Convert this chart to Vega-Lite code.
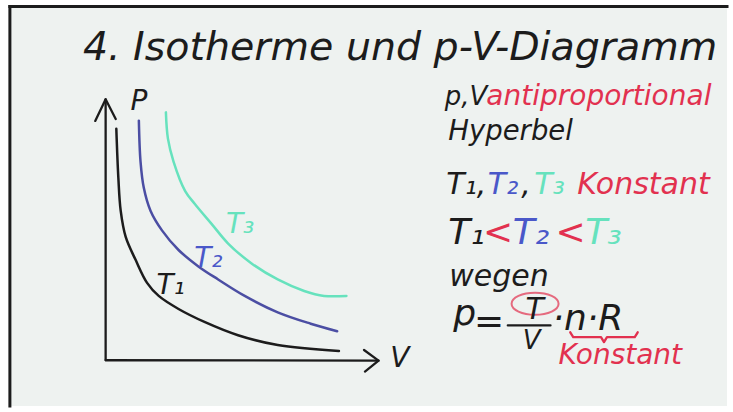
{
  "$schema": "https://vega.github.io/schema/vega-lite/v6.json",
  "width": 733,
  "height": 412,
  "autosize": {"type": "fit", "contains": "padding"},
  "padding": 0,
  "background": "#ffffff",
  "config": {"view": {"stroke": null}},
  "datasets": {
    "curves": [
      {"g": "T1", "i": 0, "x": 16.00, "y": 68.45, "ink": "k"},
      {"g": "T1", "i": 1, "x": 16.28, "y": 56.31, "ink": "k"},
      {"g": "T1", "i": 2, "x": 16.60, "y": 48.23, "ink": "k"},
      {"g": "T1", "i": 3, "x": 17.29, "y": 41.75, "ink": "k"},
      {"g": "T1", "i": 4, "x": 18.65, "y": 36.09, "ink": "k"},
      {"g": "T1", "i": 5, "x": 20.23, "y": 30.41, "ink": "k"},
      {"g": "T1", "i": 6, "x": 21.83, "y": 27.18, "ink": "k"},
      {"g": "T1", "i": 7, "x": 24.56, "y": 23.96, "ink": "k"},
      {"g": "T1", "i": 8, "x": 28.20, "y": 20.70, "ink": "k"},
      {"g": "T1", "i": 9, "x": 32.74, "y": 17.48, "ink": "k"},
      {"g": "T1", "i": 10, "x": 38.20, "y": 15.05, "ink": "k"},
      {"g": "T1", "i": 11, "x": 46.62, "y": 13.59, "ink": "k"},
      {"g": "T2", "i": 0, "x": 19.10, "y": 70.46, "ink": "blue"},
      {"g": "T2", "i": 1, "x": 19.33, "y": 60.36, "ink": "blue"},
      {"g": "T2", "i": 2, "x": 19.78, "y": 53.88, "ink": "blue"},
      {"g": "T2", "i": 3, "x": 20.70, "y": 48.23, "ink": "blue"},
      {"g": "T2", "i": 4, "x": 22.28, "y": 43.37, "ink": "blue"},
      {"g": "T2", "i": 5, "x": 24.56, "y": 38.52, "ink": "blue"},
      {"g": "T2", "i": 6, "x": 27.29, "y": 34.47, "ink": "blue"},
      {"g": "T2", "i": 7, "x": 30.01, "y": 31.24, "ink": "blue"},
      {"g": "T2", "i": 8, "x": 33.66, "y": 27.18, "ink": "blue"},
      {"g": "T2", "i": 9, "x": 38.20, "y": 23.13, "ink": "blue"},
      {"g": "T2", "i": 10, "x": 42.74, "y": 20.32, "ink": "blue"},
      {"g": "T2", "i": 11, "x": 46.38, "y": 18.45, "ink": "blue"},
      {"g": "T3", "i": 0, "x": 22.82, "y": 72.50, "ink": "teal"},
      {"g": "T3", "i": 1, "x": 23.10, "y": 66.02, "ink": "teal"},
      {"g": "T3", "i": 2, "x": 23.87, "y": 60.36, "ink": "teal"},
      {"g": "T3", "i": 3, "x": 25.47, "y": 53.08, "ink": "teal"},
      {"g": "T3", "i": 4, "x": 26.83, "y": 49.83, "ink": "teal"},
      {"g": "T3", "i": 5, "x": 29.10, "y": 44.98, "ink": "teal"},
      {"g": "T3", "i": 6, "x": 31.38, "y": 40.12, "ink": "teal"},
      {"g": "T3", "i": 7, "x": 34.56, "y": 35.27, "ink": "teal"},
      {"g": "T3", "i": 8, "x": 38.20, "y": 31.24, "ink": "teal"},
      {"g": "T3", "i": 9, "x": 41.84, "y": 28.40, "ink": "teal"},
      {"g": "T3", "i": 10, "x": 44.57, "y": 27.18, "ink": "teal"},
      {"g": "T3", "i": 11, "x": 47.65, "y": 27.18, "ink": "teal"}
    ],
    "strokes": [
      {"g": "ay", "i": 0, "x": 14.53, "y": 11.35, "ink": "k"},
      {"g": "ay", "i": 1, "x": 14.53, "y": 75.73, "ink": "k"},
      {"g": "ax", "i": 0, "x": 14.53, "y": 11.30, "ink": "k"},
      {"g": "ax", "i": 1, "x": 52.07, "y": 11.20, "ink": "k"},
      {"g": "ahy", "i": 0, "x": 13.10, "y": 70.39, "ink": "k"},
      {"g": "ahy", "i": 1, "x": 14.53, "y": 75.73, "ink": "k"},
      {"g": "ahy", "i": 2, "x": 15.92, "y": 70.87, "ink": "k"},
      {"g": "ahx", "i": 0, "x": 50.07, "y": 13.83, "ink": "k"},
      {"g": "ahx", "i": 1, "x": 52.07, "y": 11.20, "ink": "k"},
      {"g": "ahx", "i": 2, "x": 50.20, "y": 8.50, "ink": "k"},
      {"g": "bar", "i": 0, "x": 69.85, "y": 19.90, "ink": "k"},
      {"g": "bar", "i": 1, "x": 75.72, "y": 19.90, "ink": "k"},
      {"g": "brace", "i": 0, "x": 78.44, "y": 18.20, "ink": "red"},
      {"g": "brace", "i": 1, "x": 78.85, "y": 16.99, "ink": "red"},
      {"g": "brace", "i": 2, "x": 82.67, "y": 16.99, "ink": "red"},
      {"g": "brace", "i": 3, "x": 83.08, "y": 15.78, "ink": "red"},
      {"g": "brace", "i": 4, "x": 83.49, "y": 16.99, "ink": "red"},
      {"g": "brace", "i": 5, "x": 87.31, "y": 16.99, "ink": "red"},
      {"g": "brace", "i": 6, "x": 87.72, "y": 18.20, "ink": "red"}
    ],
    "frame": [
      {"g": "fv", "i": 0, "x": 1.36, "y": 0, "ink": "k"},
      {"g": "fv", "i": 1, "x": 1.36, "y": 98.67, "ink": "k"},
      {"g": "fh", "i": 0, "x": 1.36, "y": 98.67, "ink": "k"},
      {"g": "fh", "i": 1, "x": 100, "y": 98.67, "ink": "k"}
    ],
    "texts": [
      {"kind": "title", "x": 11.4, "y": 85.44, "t": "4. Isotherme und p-V-Diagramm", "ink": "k"},
      {"kind": "label", "x": 19.10, "y": 74.97, "t": "P", "ink": "k"},
      {"kind": "label", "x": 54.98, "y": 11.65, "t": "V", "ink": "k"},
      {"kind": "label", "x": 33.02, "y": 44.66, "t": "T₃", "ink": "teal"},
      {"kind": "label", "x": 28.65, "y": 36.41, "t": "T₂", "ink": "blueT"},
      {"kind": "label", "x": 23.47, "y": 29.61, "t": "T₁", "ink": "k"},
      {"kind": "small", "x": 61.16, "y": 74.4, "t": "p,V", "ink": "k"},
      {"kind": "s28", "x": 66.9, "y": 74.4, "t": "antiproportional", "ink": "red"},
      {"kind": "s27", "x": 61.66, "y": 65.8, "t": "Hyperbel", "ink": "k"},
      {"kind": "mid", "x": 61.39, "y": 52.26, "t": "T₁,", "ink": "k"},
      {"kind": "mid", "x": 67.1, "y": 52.26, "t": "T₂", "ink": "blueT"},
      {"kind": "mid", "x": 71.7, "y": 52.26, "t": ",", "ink": "k"},
      {"kind": "mid", "x": 73.5, "y": 52.26, "t": "T₃", "ink": "teal"},
      {"kind": "mid", "x": 79.40, "y": 52.26, "t": "Konstant", "ink": "red"},
      {"kind": "mid", "x": 61.80, "y": 29.61, "t": "wegen", "ink": "k"},
      {"kind": "s28", "x": 76.81, "y": 10.3, "t": "Konstant", "ink": "red"},
      {"kind": "mid", "x": 72.3, "y": 21.60, "t": "T", "ink": "k"},
      {"kind": "s26", "x": 71.9, "y": 14.08, "t": "V", "ink": "k"},
      {"kind": "big", "x": 61.66, "y": 40.05, "t": "T₁", "ink": "k"},
      {"kind": "big", "x": 66.44, "y": 40.05, "t": "<", "ink": "red"},
      {"kind": "big", "x": 70.53, "y": 40.05, "t": "T₂", "ink": "blueT"},
      {"kind": "big", "x": 76.40, "y": 40.05, "t": "<", "ink": "red"},
      {"kind": "big", "x": 80.49, "y": 40.05, "t": "T₃", "ink": "teal"},
      {"kind": "big", "x": 62.35, "y": 19.90, "t": "p", "ink": "k"},
      {"kind": "big", "x": 65.2, "y": 18.0, "t": "=", "ink": "k"},
      {"kind": "big", "x": 76.0, "y": 18.69, "t": "·n·R", "ink": "k"}
    ]
  },
  "encoding": {
    "x": {"field": "x", "type": "quantitative", "scale": {"domain": [0, 100], "nice": false, "zero": false}, "axis": null},
    "y": {"field": "y", "type": "quantitative", "scale": {"domain": [0, 100], "nice": false, "zero": false}, "axis": null}
  },
  "layer": [
    {
      "data": {"values": [{"x": 1.36, "x2": 100, "y": 0, "y2": 98.67}]},
      "mark": {"type": "rect", "fill": "#eef2f0"},
      "encoding": {"x2": {"field": "x2"}, "y2": {"field": "y2"}}
    },
    {
      "data": {"name": "frame"},
      "mark": {"type": "line", "strokeWidth": 3, "strokeCap": "square"},
      "encoding": {
        "detail": {"field": "g"},
        "order": {"field": "i"},
        "color": {"field": "ink", "type": "nominal", "legend": null,
          "scale": {"domain": ["k", "blue", "blueT", "teal", "red"], "range": ["#1c1c1c", "#4b4ea3", "#4a58c9", "#66e2bd", "#e2314f"]}}
      }
    },
    {
      "data": {"name": "curves"},
      "mark": {"type": "line", "strokeWidth": 2.5, "interpolate": "catmull-rom", "strokeCap": "round"},
      "encoding": {
        "detail": {"field": "g"},
        "order": {"field": "i"},
        "color": {"field": "ink", "type": "nominal", "legend": null}
      }
    },
    {
      "data": {"name": "strokes"},
      "mark": {"type": "line", "strokeWidth": 2.3, "strokeCap": "round", "strokeJoin": "round"},
      "encoding": {
        "detail": {"field": "g"},
        "order": {"field": "i"},
        "color": {"field": "ink", "type": "nominal", "legend": null}
      }
    },
    {
      "data": {"values": [{"x": 73.60, "y": 25.24, "ink": "red"}]},
      "mark": {"type": "point", "filled": false, "strokeWidth": 2, "size": 2209,
        "shape": "M-1,0A1,0.47 0 1,0 1,0A1,0.47 0 1,0 -1,0Z"},
      "encoding": {"color": {"field": "ink", "type": "nominal", "legend": null}}
    },
    {
      "data": {"name": "texts"},
      "transform": [{"filter": "datum.kind === 'title'"}],
      "mark": {"type": "text", "align": "left", "baseline": "alphabetic", "font": "DejaVu Sans", "fontSize": 39.5, "fontStyle": "italic", "fontWeight": 300},
      "encoding": {"text": {"field": "t"}, "color": {"field": "ink", "type": "nominal", "legend": null}}
    },
    {
      "data": {"name": "texts"},
      "transform": [{"filter": "datum.kind === 'label'"}],
      "mark": {"type": "text", "align": "center", "baseline": "middle", "font": "DejaVu Sans", "fontSize": 28, "fontStyle": "italic", "fontWeight": 300},
      "encoding": {"text": {"field": "t"}, "color": {"field": "ink", "type": "nominal", "legend": null}}
    },
    {
      "data": {"name": "texts"},
      "transform": [{"filter": "datum.kind === 'small'"}],
      "mark": {"type": "text", "align": "left", "baseline": "alphabetic", "font": "DejaVu Sans", "fontSize": 26, "fontStyle": "italic", "fontWeight": 300},
      "encoding": {"text": {"field": "t"}, "color": {"field": "ink", "type": "nominal", "legend": null}}
    },
    {
      "data": {"name": "texts"},
      "transform": [{"filter": "datum.kind === 's26'"}],
      "mark": {"type": "text", "align": "left", "baseline": "alphabetic", "font": "DejaVu Sans", "fontSize": 26, "fontStyle": "italic", "fontWeight": 300},
      "encoding": {"text": {"field": "t"}, "color": {"field": "ink", "type": "nominal", "legend": null}}
    },
    {
      "data": {"name": "texts"},
      "transform": [{"filter": "datum.kind === 's27'"}],
      "mark": {"type": "text", "align": "left", "baseline": "alphabetic", "font": "DejaVu Sans", "fontSize": 27.5, "fontStyle": "italic", "fontWeight": 300},
      "encoding": {"text": {"field": "t"}, "color": {"field": "ink", "type": "nominal", "legend": null}}
    },
    {
      "data": {"name": "texts"},
      "transform": [{"filter": "datum.kind === 's28'"}],
      "mark": {"type": "text", "align": "left", "baseline": "alphabetic", "font": "DejaVu Sans", "fontSize": 28, "fontStyle": "italic", "fontWeight": 300},
      "encoding": {"text": {"field": "t"}, "color": {"field": "ink", "type": "nominal", "legend": null}}
    },
    {
      "data": {"name": "texts"},
      "transform": [{"filter": "datum.kind === 'mid'"}],
      "mark": {"type": "text", "align": "left", "baseline": "alphabetic", "font": "DejaVu Sans", "fontSize": 30, "fontStyle": "italic", "fontWeight": 300},
      "encoding": {"text": {"field": "t"}, "color": {"field": "ink", "type": "nominal", "legend": null}}
    },
    {
      "data": {"name": "texts"},
      "transform": [{"filter": "datum.kind === 'big'"}],
      "mark": {"type": "text", "align": "left", "baseline": "alphabetic", "font": "DejaVu Sans", "fontSize": 36, "fontStyle": "italic", "fontWeight": 300},
      "encoding": {"text": {"field": "t"}, "color": {"field": "ink", "type": "nominal", "legend": null}}
    }
  ]
}
